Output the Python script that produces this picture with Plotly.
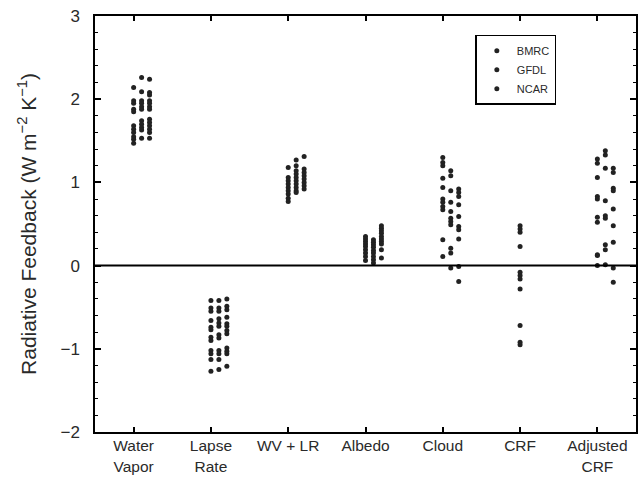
import plotly.graph_objects as go

categories = ["Water<br>Vapor", "Lapse<br>Rate", "WV + LR", "Albedo", "Cloud", "CRF", "Adjusted<br>CRF"]
models = ["BMRC", "GFDL", "NCAR"]

bmrc = {
    "Water Vapor": [2.14, 1.98, 1.95, 1.88, 1.85, 1.68, 1.64, 1.60, 1.55, 1.52, 1.47],
    "Lapse Rate": [-0.42, -0.51, -0.55, -0.66, -0.74, -0.77, -0.86, -0.90, -1.02, -1.06, -1.13, -1.27],
    "WV + LR": [1.18, 1.06, 1.02, 0.98, 0.94, 0.90, 0.86, 0.81, 0.77],
    "Albedo": [0.35, 0.32, 0.29, 0.26, 0.23, 0.19, 0.15, 0.11, 0.06],
    "Cloud": [1.30, 1.24, 1.20, 1.05, 0.94, 0.80, 0.76, 0.71, 0.67, 0.31, 0.11],
    "CRF": [0.48, 0.44, 0.40, 0.23, -0.08, -0.12, -0.16, -0.28, -0.72, -0.92, -0.95],
    "Adjusted CRF": [1.28, 1.23, 1.06, 0.83, 0.80, 0.58, 0.52, 0.13, 0.12, 0.0],
}
gfdl = {
    "Water Vapor": [2.26, 2.09, 1.98, 1.95, 1.91, 1.88, 1.74, 1.70, 1.66, 1.63, 1.53],
    "Lapse Rate": [-0.42, -0.51, -0.55, -0.64, -0.69, -0.73, -0.83, -0.87, -1.02, -1.06, -1.13, -1.25],
    "WV + LR": [1.27, 1.20, 1.14, 1.10, 1.06, 1.02, 0.98, 0.94, 0.90, 0.88],
    "Albedo": [0.31, 0.28, 0.25, 0.22, 0.18, 0.15, 0.11, 0.07, 0.03],
    "Cloud": [1.14, 1.08, 0.90, 0.76, 0.65, 0.57, 0.53, 0.49, 0.21, 0.15, -0.03],
    "CRF": [],
    "Adjusted CRF": [1.38, 1.33, 1.17, 0.78, 0.60, 0.57, 0.25, 0.19, 0.01],
}
ncar = {
    "Water Vapor": [2.24, 2.08, 2.05, 1.98, 1.95, 1.91, 1.88, 1.76, 1.72, 1.68, 1.64, 1.60, 1.53],
    "Lapse Rate": [-0.40, -0.49, -0.53, -0.62, -0.70, -0.73, -0.78, -0.82, -0.99, -1.03, -1.06, -1.21],
    "WV + LR": [1.31, 1.16, 1.12, 1.08, 1.04, 1.00, 0.96, 0.92],
    "Albedo": [0.48, 0.45, 0.42, 0.39, 0.35, 0.32, 0.29, 0.26, 0.19, 0.09],
    "Cloud": [0.92, 0.88, 0.83, 0.73, 0.59, 0.47, 0.43, 0.32, -0.01, -0.19],
    "CRF": [],
    "Adjusted CRF": [1.17, 1.12, 0.93, 0.90, 0.68, 0.48, 0.28, -0.03, -0.20],
}
keys = ["Water Vapor", "Lapse Rate", "WV + LR", "Albedo", "Cloud", "CRF", "Adjusted CRF"]
series = [bmrc, gfdl, ncar]
offsets = [0.0, 0.103, 0.206]

fig = go.Figure()
for name, data, off in zip(models, series, offsets):
    xs, ys = [], []
    for i, k in enumerate(keys):
        for v in data[k]:
            xs.append(i + 1 + off)
            ys.append(v)
    fig.add_trace(go.Scatter(x=xs, y=ys, mode="markers", name=name,
                             marker=dict(size=5, color="#222222")))

fig.add_shape(type="line", xref="paper", x0=0, x1=1, yref="y", y0=0, y1=0,
              line=dict(color="black", width=2))

fig.update_layout(
    width=639, height=477,
    margin=dict(l=95, r=3, t=16, b=45),
    plot_bgcolor="white", paper_bgcolor="white",
    font=dict(family="Liberation Sans, Arial, sans-serif", color="#2a2a2a"),
    showlegend=True,
    legend=dict(x=0.703, y=0.955, xanchor="left", yanchor="top",
                bordercolor="black", borderwidth=1.5, bgcolor="white",
                font=dict(size=11), itemsizing="trace",
                tracegroupgap=0, itemwidth=30),
    xaxis=dict(range=[0.5, 7.5], tickvals=list(range(1, 8)), ticktext=categories,
               ticks="inside", ticklen=5, tickwidth=1.5, tickcolor="black",
               showline=True, linecolor="black", linewidth=1.5, mirror="ticks",
               showgrid=False, zeroline=False, tickfont=dict(size=15.5),
               ticklabelstandoff=-1, automargin=False),
    yaxis=dict(range=[-2, 3], dtick=1, ticks="inside", ticklen=6, tickwidth=1.5,
               tickcolor="black", showline=True, linecolor="black", linewidth=1.5,
               mirror="ticks", showgrid=False, zeroline=False, automargin=False,
               tickfont=dict(size=17), tickformat="d", ticklabelstandoff=10,
               minor=dict(dtick=0.2, ticks="inside", ticklen=3, tickcolor="black", tickwidth=1),
               title=dict(text="Radiative Feedback (W m<sup>\u22122</sup> K<sup>\u22121</sup>)",
                          font=dict(size=21), standoff=18)),
)
fig.write_html("out.html")
